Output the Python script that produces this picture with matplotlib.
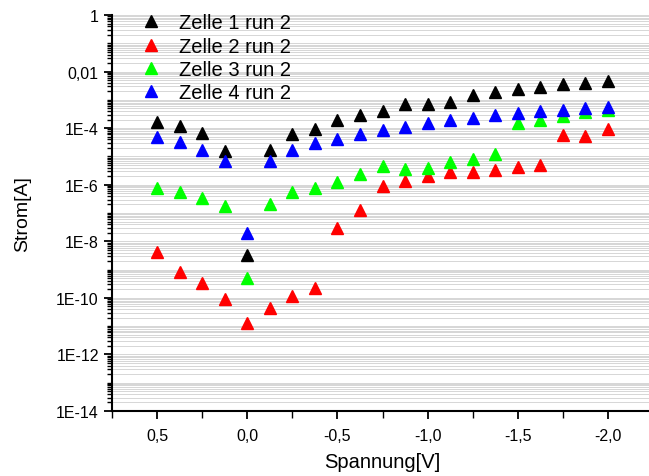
import matplotlib
matplotlib.use("Agg")
import matplotlib.pyplot as plt
from matplotlib.ticker import LogLocator, FuncFormatter, MultipleLocator, NullFormatter
import numpy as np

plt.rcParams['font.family'] = ['Liberation Sans', 'DejaVu Sans']

# voltage steps (V)
spannung = [0.5, 0.375, 0.25, 0.125, 0.0, -0.125, -0.25, -0.375, -0.5, -0.625, -0.75,
            -0.875, -1.0, -1.125, -1.25, -1.375, -1.5, -1.625, -1.75, -1.875, -2.0]

# current (A)
zelle1 = [1.7e-4, 1.2e-4, 6.8e-5, 1.5e-5, 3.3e-9, 1.7e-5, 6.3e-5, 9.4e-5, 1.9e-4, 3.0e-4, 4.0e-4,
          6.9e-4, 7.2e-4, 8.7e-4, 1.5e-3, 1.9e-3, 2.4e-3, 2.9e-3, 3.5e-3, 4.1e-3, 4.8e-3]
zelle2 = [4.3e-9, 8.5e-10, 3.4e-10, 9.2e-11, 1.3e-11, 4.3e-11, 1.2e-10, 2.3e-10, 3.0e-8, 1.3e-7, 9.3e-7,
          1.3e-6, 2.0e-6, 2.8e-6, 2.9e-6, 3.4e-6, 4.3e-6, 5.1e-6, 5.6e-5, 5.2e-5, 9.4e-5]
zelle3 = [7.7e-7, 5.4e-7, 3.3e-7, 1.7e-7, 5.2e-10, 2.0e-7, 5.7e-7, 7.7e-7, 1.2e-6, 2.3e-6, 4.5e-6,
          3.6e-6, 3.9e-6, 6.6e-6, 8.1e-6, 1.2e-5, 1.5e-4, 1.9e-4, 2.6e-4, 3.6e-4, 4.4e-4]
zelle4 = [4.8e-5, 3.2e-5, 1.7e-5, 7.1e-6, 2.0e-8, 6.9e-6, 1.7e-5, 3.0e-5, 4.3e-5, 6.3e-5, 8.7e-5,
          1.1e-4, 1.5e-4, 1.9e-4, 2.3e-4, 2.8e-4, 3.5e-4, 4.0e-4, 4.5e-4, 5.2e-4, 5.8e-4]

labels = ["Zelle 1 run 2", "Zelle 2 run 2", "Zelle 3 run 2", "Zelle 4 run 2"]
colors = ["#000000", "#ff0000", "#00ff00", "#0000ff"]

png_width = 649
png_height = 477
png_dpi = 100

fig = plt.figure(figsize=(png_width / png_dpi, png_height / png_dpi), dpi=png_dpi)
# axes box in pixels: left 112, right ~653 (clipped by figure), top 16, bottom 412
ax = fig.add_axes([112 / png_width, 1 - 412 / png_height,
                   (653 - 112) / png_width, (412 - 16) / png_height])

for ys, lab, c in zip([zelle1, zelle2, zelle3, zelle4], labels, colors):
    ax.plot(spannung, ys, linestyle='none', marker='^', markersize=9,
            markerfacecolor=c, markeredgecolor=c, label=lab)

ax.set_yscale('log')
ax.set_ylim(1e-14, 1)
ax.set_xlim(0.75, -2.25)

ax.yaxis.set_major_locator(LogLocator(base=100.0, numticks=20))
ax.yaxis.set_minor_locator(LogLocator(base=10.0, subs=np.arange(1, 10), numticks=40))
ax.yaxis.set_minor_formatter(NullFormatter())


def ylab(v, pos):
    e = int(round(np.log10(v)))
    if e == 0:
        return "1"
    if e == -2:
        return "0,01"
    return "1E%d" % e


ax.yaxis.set_major_formatter(FuncFormatter(ylab))
ax.xaxis.set_major_locator(MultipleLocator(0.5))
ax.xaxis.set_minor_locator(MultipleLocator(0.25))
ax.xaxis.set_major_formatter(FuncFormatter(lambda v, p: ("%.1f" % v).replace('.', ',').replace('-0,0', '0,0')))

ax.grid(which='both', axis='y', color='#d0d0d0', linewidth=0.6)
ax.set_axisbelow(True)

for s in ['top', 'right']:
    ax.spines[s].set_visible(False)
for s in ['left', 'bottom']:
    ax.spines[s].set_linewidth(1.5)

ax.tick_params(which='major', direction='out', length=6, width=1.3, labelsize=11.5)
ax.tick_params(which='minor', direction='out', length=3.5, width=1.0)
ax.tick_params(axis='x', which='minor', length=5)
ax.tick_params(axis='x', which='major', pad=6)

ax.set_xlabel("Spannung[V]", fontsize=14.5, labelpad=7)
ax.set_ylabel("Strom[A]", fontsize=14, labelpad=18)

ax.legend(loc='upper left', frameon=False, fontsize=14.5, handletextpad=0.6,
          labelspacing=0.22, borderaxespad=0.0, handlelength=1.5,
          bbox_to_anchor=(0.03, 1.025))

plt.savefig("out.png", dpi=png_dpi)
